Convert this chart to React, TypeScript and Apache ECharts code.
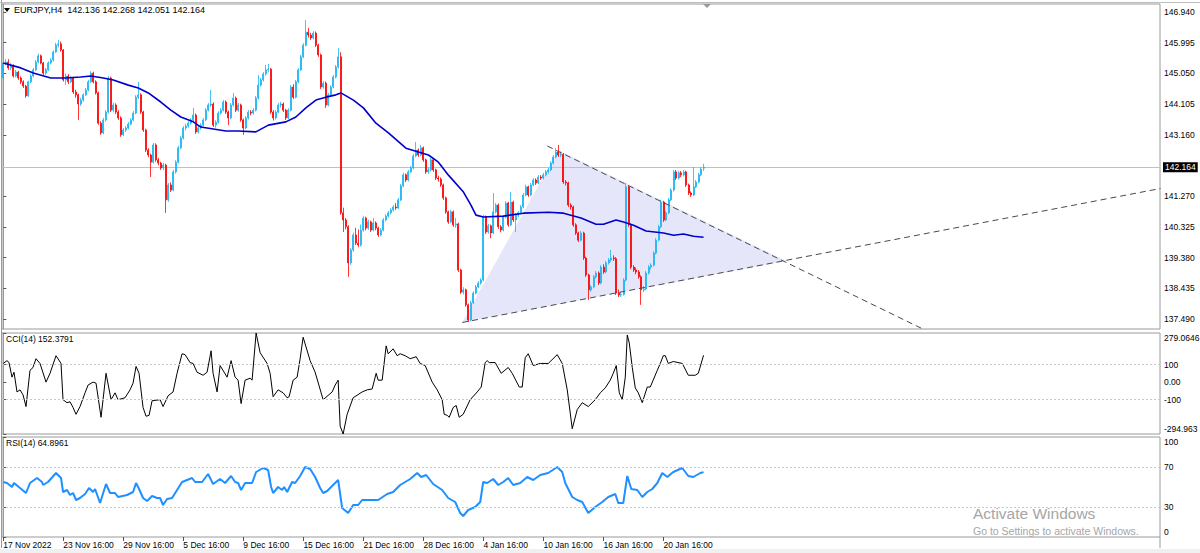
import { useEffect, useRef } from "react";
import * as echarts from "echarts";

// ---------- data ----------
const symbolName = "EURJPY,H4";
const lastQuote = { open: "142.136", high: "142.268", low: "142.051", close: "142.164" };
const bidPrice = 142.164;
const slotCount = 463; // bar slots visible in the window (incl. right shift)
const labelStep = 24; // bars between time labels
const timeLabels = [
  "17 Nov 2022", "23 Nov 16:00", "29 Nov 16:00", "5 Dec 16:00", "9 Dec 16:00", "15 Dec 16:00",
  "21 Dec 16:00", "28 Dec 16:00", "4 Jan 16:00", "10 Jan 16:00", "16 Jan 16:00", "20 Jan 16:00",
];
const priceTicks = [146.94, 145.995, 145.05, 144.105, 143.16, 141.27, 140.325, 139.38, 138.435, 137.49];
const priceTickLabels = ["146.940", "145.995", "145.050", "144.105", "143.160", "141.270", "140.325", "139.380", "138.435", "137.490"];
const priceMin = 137.186;
const priceMax = 147.186;
const cciMin = -294.963;
const cciMax = 279.0646;
const cciTicks = [-294.963, -100, 0, 100, 279.0646];
const cciTickLabels = ["-294.963", "-100", "0.00", "100", "279.0646"];
const cciLevels = [100, -100];
const cciLast = "152.3791";
const rsiMin = 0;
const rsiMax = 100;
const rsiTicks = [0, 30, 70, 100];
const rsiTickLabels = ["0", "30", "70", "100"];
const rsiLevels = [70, 30];
const rsiLast = "64.8961";

// candles: [open, close, low, high]
const candles = [
  [144.91,145.37,144.85,145.43],[145.37,145.40,145.30,145.49],[145.40,145.22,145.16,145.49],[145.22,145.28,145.15,145.37],
  [145.28,144.97,144.92,145.33],[144.97,145.09,144.93,145.16],[145.09,144.91,144.85,145.13],[144.91,144.79,144.72,144.96],
  [144.79,144.66,144.60,144.84],[144.66,144.36,144.30,144.70],[144.36,144.79,144.33,144.83],[144.79,144.97,144.75,145.03],
  [144.97,145.16,144.93,145.22],[145.16,145.40,145.12,145.46],[145.40,145.59,145.36,145.66],[145.59,145.37,145.33,145.63],
  [145.37,145.06,145.00,145.40],[145.06,145.16,145.01,145.22],[145.16,145.37,145.12,145.42],[145.37,145.46,145.33,145.52],
  [145.46,145.71,145.42,145.76],[145.71,145.92,145.68,145.99],[145.92,145.96,145.85,146.08],[145.96,145.77,145.72,146.03],
  [145.77,144.85,144.80,145.80],[144.85,144.97,144.70,145.05],[144.97,144.79,144.72,145.03],[144.79,144.91,144.75,144.98],
  [144.91,144.48,144.42,144.95],[144.48,144.39,144.30,144.55],[144.39,144.11,143.62,144.43],[144.11,144.23,144.05,144.30],
  [144.23,144.39,144.18,144.44],[144.39,144.54,144.35,144.60],[144.54,144.79,144.50,144.85],[144.79,145.06,144.75,145.12],
  [145.06,144.79,144.74,145.10],[144.79,144.45,144.40,144.84],[144.45,143.52,143.47,144.49],[143.52,143.22,143.16,143.58],
  [143.22,143.62,143.18,143.68],[143.62,143.86,143.57,143.92],[143.86,144.91,143.82,144.97],[144.91,143.92,143.86,144.95],
  [143.92,144.08,143.85,144.15],[144.08,143.86,143.80,144.13],[143.86,143.68,143.62,143.92],[143.68,143.16,143.10,143.73],
  [143.16,143.31,143.12,143.37],[143.31,143.37,143.25,143.43],[143.37,143.49,143.33,143.55],[143.49,143.62,143.45,143.67],
  [143.62,143.83,143.58,143.89],[143.83,144.32,143.79,144.38],[144.32,144.39,144.26,144.79],[144.39,143.86,143.80,144.44],
  [143.86,143.31,143.25,143.90],[143.31,142.69,142.63,143.35],[142.69,142.54,142.47,142.75],[142.54,142.32,141.86,142.58],
  [142.32,142.85,142.28,142.91],[142.85,142.39,142.33,142.90],[142.39,142.29,142.22,142.45],[142.29,142.14,142.08,142.33],
  [142.14,142.23,142.07,142.30],[142.23,141.16,140.76,142.27],[141.16,141.62,141.10,141.68],[141.62,141.46,141.40,141.70],
  [141.46,142.02,141.42,142.08],[142.02,142.32,141.97,142.38],[142.32,142.76,142.28,142.82],[142.76,143.06,142.72,143.12],
  [143.06,143.37,143.02,143.43],[143.37,143.43,143.30,143.50],[143.43,143.52,143.38,143.58],[143.52,143.62,143.47,143.68],
  [143.62,143.77,143.58,143.99],[143.77,143.25,143.19,143.82],[143.25,143.37,143.20,143.43],[143.37,143.46,143.32,143.52],
  [143.46,143.62,143.42,143.68],[143.62,143.92,143.58,143.98],[143.92,144.08,143.88,144.14],[144.08,144.11,144.02,144.54],
  [144.11,143.46,143.40,144.16],[143.46,143.55,143.38,143.61],[143.55,143.83,143.50,143.89],[143.83,143.92,143.78,143.98],
  [143.92,144.17,143.88,144.23],[144.17,143.86,143.80,144.22],[143.86,143.68,143.46,143.91],[143.68,144.08,143.64,144.14],
  [144.08,144.29,144.03,144.45],[144.29,143.92,143.86,144.34],[143.92,144.08,143.87,144.14],[144.08,143.62,143.56,144.12],
  [143.62,143.37,143.16,143.66],[143.37,143.68,143.33,143.74],[143.68,143.86,143.63,143.92],[143.86,143.83,143.76,143.92],
  [143.83,143.92,143.78,143.98],[143.92,144.29,143.88,144.35],[144.29,144.69,144.25,145.00],[144.69,144.85,144.64,144.91],
  [144.85,145.03,144.80,145.09],[145.03,145.16,144.98,145.31],[145.16,145.18,145.08,145.34],[145.18,143.86,143.80,145.22],
  [143.86,143.68,143.60,143.92],[143.68,143.86,143.63,143.92],[143.86,144.08,143.82,144.14],[144.08,144.11,144.00,144.18],
  [144.11,143.92,143.86,144.16],[143.92,143.68,143.62,143.96],[143.68,143.92,143.64,143.98],[143.92,144.63,143.88,144.69],
  [144.63,144.32,144.26,144.72],[144.32,144.79,144.28,144.85],[144.79,145.16,144.75,145.22],[145.16,145.56,145.12,145.62],
  [145.56,145.92,145.52,145.98],[145.92,146.32,145.88,146.69],[146.32,146.23,146.15,146.45],[146.23,146.14,146.08,146.30],
  [146.14,146.29,146.10,146.35],[146.29,145.92,145.86,146.34],[145.92,145.62,145.56,145.96],[145.62,144.63,144.57,145.66],
  [144.63,144.75,144.58,144.81],[144.75,144.08,143.99,144.80],[144.08,144.39,144.04,144.45],[144.39,144.63,144.35,144.69],
  [144.63,144.94,144.59,145.00],[144.94,145.25,144.90,145.31],[145.25,145.56,145.20,145.83],[145.56,140.76,140.70,145.70],
  [140.76,140.54,140.17,140.92],[140.54,140.33,140.25,140.60],[140.33,139.22,138.79,140.38],[139.22,139.62,139.16,139.68],
  [139.62,140.08,139.56,140.15],[140.08,139.83,139.77,140.30],[139.83,139.77,139.70,140.25],[139.77,140.23,139.72,140.40],
  [140.23,140.60,140.18,140.66],[140.60,140.29,140.22,140.64],[140.29,140.48,140.24,140.55],[140.48,140.23,140.17,140.52],
  [140.23,140.45,140.19,140.60],[140.45,140.29,140.22,140.50],[140.29,140.08,140.02,140.33],[140.08,140.23,140.04,140.29],
  [140.23,140.54,140.19,140.60],[140.54,140.66,140.50,140.72],[140.66,140.76,140.61,140.82],[140.76,140.85,140.71,140.91],
  [140.85,140.94,140.80,141.00],[140.94,140.91,140.85,141.06],[140.91,141.16,140.87,141.22],[141.16,141.59,141.12,141.65],
  [141.59,141.93,141.55,141.99],[141.93,141.77,141.71,141.97],[141.77,142.02,141.73,142.08],[142.02,142.14,141.98,142.20],
  [142.14,142.51,142.10,142.57],[142.51,142.69,142.47,142.94],[142.69,142.54,142.48,142.74],[142.54,142.76,142.50,142.85],
  [142.76,142.39,142.33,142.80],[142.39,142.02,141.96,142.43],[142.02,142.08,141.96,142.15],[142.08,142.39,142.04,142.45],
  [142.39,142.08,142.02,142.43],[142.08,141.83,141.77,142.12],[141.83,141.80,141.72,141.90],[141.80,141.62,141.56,141.85],
  [141.62,141.22,141.16,141.66],[141.22,140.79,140.73,141.26],[140.79,140.48,140.42,140.83],[140.48,140.79,140.44,140.85],
  [140.79,140.39,140.33,140.83],[140.39,140.42,140.30,140.60],[140.42,139.00,138.94,140.46],[139.00,138.32,138.26,139.04],
  [138.32,138.39,138.25,138.47],[138.39,137.93,137.87,138.43],[137.93,137.46,137.40,137.97],[137.46,137.99,137.42,138.05],
  [137.99,138.29,137.95,138.35],[138.29,138.48,138.25,138.54],[138.48,138.60,138.44,138.66],[138.60,138.69,138.55,138.75],
  [138.69,140.63,138.65,140.70],[140.63,140.17,140.11,140.68],[140.17,140.36,140.12,140.42],[140.36,140.14,139.98,140.40],
  [140.14,140.79,140.10,141.37],[140.79,141.00,140.74,141.06],[141.00,140.33,140.27,141.05],[140.33,140.23,140.16,140.38],
  [140.23,140.63,140.19,140.69],[140.63,141.06,140.59,141.12],[141.06,140.39,140.33,141.10],[140.39,141.09,140.35,141.40],
  [141.09,140.54,140.48,141.13],[140.54,140.69,140.17,140.75],[140.69,140.76,140.63,140.82],[140.76,140.94,140.71,141.00],
  [140.94,141.31,140.90,141.37],[141.31,141.56,141.27,141.62],[141.56,141.31,141.25,141.60],[141.31,141.62,141.27,141.68],
  [141.62,141.77,141.58,141.83],[141.77,141.68,141.62,141.82],[141.68,141.86,141.64,141.92],[141.86,141.83,141.77,141.92],
  [141.83,141.93,141.79,141.99],[141.93,142.02,141.88,142.08],[142.02,142.08,141.97,142.14],[142.08,142.29,142.04,142.35],
  [142.29,142.48,142.25,142.54],[142.48,142.63,142.44,142.75],[142.63,142.54,142.48,142.85],[142.54,142.56,142.47,142.65],
  [142.56,141.71,141.65,142.60],[141.71,141.68,141.60,141.77],[141.68,141.00,140.94,141.72],[141.00,140.94,140.86,141.06],
  [140.94,140.39,140.33,140.98],[140.39,140.14,140.08,140.44],[140.14,139.92,139.86,140.18],[139.92,140.14,139.88,140.20],
  [140.14,139.37,139.31,140.18],[139.37,138.85,138.79,139.41],[138.85,138.39,138.08,138.89],[138.39,138.48,138.33,138.54],
  [138.48,138.79,138.44,138.85],[138.79,138.91,138.74,138.97],[138.91,138.60,138.54,138.96],[138.60,139.09,138.56,139.15],
  [139.09,138.94,138.88,139.18],[138.94,139.22,138.90,139.28],[139.22,139.31,139.17,139.37],[139.31,139.37,139.25,139.62],
  [139.37,139.35,139.28,139.45],[139.35,138.29,138.23,139.40],[138.29,138.23,138.17,138.40],[138.23,138.25,138.17,138.33],
  [138.25,138.69,138.21,138.75],[138.69,141.56,138.65,141.68],[141.56,140.39,140.33,141.60],[140.39,139.09,139.03,140.44],
  [139.09,139.00,138.94,139.15],[139.00,138.94,138.87,139.08],[138.94,138.79,138.73,139.00],[138.79,138.39,137.93,138.84],
  [138.39,138.42,138.32,138.50],[138.42,138.91,138.38,138.97],[138.91,139.09,138.86,139.15],[139.09,139.15,139.02,139.21],
  [139.15,139.52,139.11,139.58],[139.52,139.92,139.48,139.98],[139.92,140.33,139.88,140.39],[140.33,141.09,140.29,141.16],
  [141.09,140.54,140.48,141.13],[140.54,140.76,140.50,140.82],[140.76,141.16,140.72,141.22],[141.16,141.46,141.12,141.52],
  [141.46,142.02,141.42,142.08],[142.02,141.83,141.77,142.08],[141.83,141.99,141.79,142.05],[141.99,141.93,141.86,142.05],
  [141.93,142.02,141.88,142.08],[142.02,141.62,141.56,142.06],[141.62,141.37,141.31,141.66],[141.37,141.31,141.25,141.42],
  [141.31,141.56,141.27,142.17],[141.56,141.71,141.52,141.77],[141.71,141.93,141.67,141.99],[141.93,142.11,141.89,142.17],
  [142.136,142.164,142.051,142.268],
];

// moving average: [bar index, value]
const maPoints = [
  [0,145.37],[7,145.22],[12,145.06],[19,144.91],[25,144.91],[31,144.94],[35,144.97],[40,144.91],[44,144.85],
  [50,144.69],[54,144.60],[58,144.45],[63,144.17],[67,143.92],[71,143.71],[76,143.56],[79,143.40],[84,143.34],
  [89,143.28],[94,143.28],[101,143.25],[106,143.46],[113,143.56],[117,143.71],[121,143.99],[125,144.23],[129,144.32],
  [133,144.39],[135,144.45],[140,144.23],[144,143.99],[149,143.52],[154,143.22],[161,142.75],[166,142.63],[170,142.54],
  [174,142.32],[178,141.92],[184,141.40],[187,141.00],[189,140.69],[192,140.63],[200,140.66],[208,140.75],[218,140.78],
  [224,140.75],[231,140.60],[237,140.41],[240,140.41],[245,140.54],[248,140.48],[252,140.38],[257,140.20],[264,140.14],
  [268,140.07],[272,140.11],[276,140.04],[280,140.01],
];

// CCI(14): [bar index, value]
const cciPoints = [
  [0,106],[1.5,122],[2.3,111],[3.5,28],[4.3,56],[5.5,-56],[6.7,-44],[7.9,-72],[9.1,-139],[10.7,67],[11.9,83],
  [13.1,133],[14.7,106],[17.1,0],[18.7,50],[21.1,150],[23.1,106],[23.9,-100],[25.5,-117],[26.7,-112],[27.9,-144],
  [29.1,-183],[30.7,-139],[32.7,-61],[33.9,-17],[35.9,0],[37.1,-6],[39.1,-200],[41.1,50],[43.1,-100],[44.7,-61],
  [45.9,-100],[48.7,-89],[50.7,-44],[51.9,-6],[53.1,89],[54.3,50],[55.9,-144],[57.1,-194],[58.3,-189],[59.5,-106],
  [62.7,-100],[63.9,-139],[65.9,-78],[67.9,-56],[69.5,50],[71.5,161],[72.7,156],[74.7,111],[75.9,106],[77.5,56],
  [79.9,39],[81.5,56],[83.1,178],[83.9,50],[85.5,-56],[86.7,94],[89.5,28],[91.1,122],[92.7,28],[93.9,11],
  [95.1,-122],[96.7,11],[98.7,22],[99.5,11],[101.1,279],[102.7,167],[105.5,106],[106.7,50],[107.9,-83],[109.9,-44],
  [111.9,-61],[113.5,-89],[114.3,-83],[115.9,11],[117.5,28],[118.7,133],[119.9,255],[122.7,122],[124.7,56],
  [127.9,-100],[131.5,-56],[132.7,-17],[133.9,11],[134.7,-250],[135.9,-295],[137.5,-183],[139.9,-89],[143.5,-56],
  [145.5,-44],[147.5,-39],[149.1,50],[149.9,11],[151.5,11],[153.1,206],[153.9,161],[155.9,189],[157.5,150],
  [158.7,161],[160.7,150],[162.7,133],[165.1,144],[166.7,106],[168.7,94],[171.5,0],[173.5,-44],[175.5,-100],
  [176.3,-183],[177.5,-189],[178.3,-200],[179.9,-144],[181.1,-133],[182.3,-200],[183.9,-183],[186.7,-100],
  [189.5,-56],[191.1,-28],[192.7,111],[193.5,122],[194.3,111],[196.7,111],[199.1,50],[201.9,83],[203.5,50],
  [206.3,-28],[207.5,-28],[208.7,139],[209.9,161],[211.9,94],[214.7,106],[217.9,106],[221.5,156],[223.5,106],
  [225.5,-44],[227.5,-265],[229.5,-156],[231.5,-117],[233.9,-139],[236.7,-100],[238.7,-61],[240.7,-33],[242.7,11],
  [243.9,50],[245.1,94],[246.3,-61],[247.5,-100],[248.7,28],[249.5,268],[250.3,222],[251.5,83],[252.7,-33],
  [253.9,-61],[255.5,-117],[257.5,-28],[258.7,-28],[261.5,67],[262.7,106],[263.9,150],[264.7,150],[265.9,106],
  [267.9,117],[271.5,106],[273.9,39],[276.7,39],[277.9,50],[280,152.38],
];

// RSI(14): [bar index, value]
const rsiPoints = [
  [0,55],[1.5,54],[3.5,50],[4.3,54],[6.7,49],[9.1,44],[10.7,54],[13.5,59],[15.5,55],[15.9,52],[17.9,55],[21.1,64],
  [23.1,59],[23.9,45],[25.5,47],[26.7,42],[27.9,44],[29.1,37],[30.7,39],[32.7,43],[34.3,49],[35.9,45],[36.7,48],
  [38.7,34],[41.1,53],[42.7,44],[44.7,44],[45.9,40],[49.5,42],[51.9,45],[53.1,54],[54.3,48],[55.9,39],[57.5,36],
  [59.5,41],[61.5,39],[62.7,39],[63.9,32],[65.5,38],[67.5,39],[69.5,47],[71.5,55],[73.5,57],[75.5,59],[76.7,55],
  [79.5,55],[81.9,63],[83.9,53],[86.7,58],[88.7,54],[91.1,61],[92.7,55],[93.9,54],[95.1,47],[96.7,54],[99.5,54],
  [101.1,65],[103.9,69],[105.9,67],[107.1,50],[107.9,44],[109.9,50],[111.5,47],[112.3,50],[113.5,45],[115.5,55],
  [116.7,54],[118.7,61],[120.7,70],[122.7,68],[124.7,60],[126.7,49],[127.9,44],[129.5,46],[131.9,52],[133.9,57],
  [135.5,29],[137.9,24],[139.9,32],[141.9,32],[143.5,37],[146.7,37],[149.9,37],[153.5,43],[155.9,45],[158.7,52],
  [160.7,55],[162.7,58],[165.5,64],[167.1,60],[169.1,62],[171.9,53],[175.5,47],[177.9,39],[180.7,35],[182.7,24],
  [183.9,21],[185.9,27],[188.7,30],[190.7,35],[191.9,55],[193.5,54],[195.9,58],[197.9,52],[199.9,55],[201.9,59],
  [203.9,52],[206.7,54],[209.5,60],[211.9,57],[214.7,62],[217.9,64],[221.5,70],[223.5,65],[224.7,54],[227.5,40],
  [229.5,37],[231.5,35],[233.9,24],[236.7,30],[239.5,35],[241.9,40],[244.7,43],[245.9,34],[247.9,34],[249.5,61],
  [251.1,48],[253.5,47],[255.5,40],[257.5,45],[259.5,48],[261.5,54],[263.5,64],[265.5,60],[267.9,65],[271.5,69],
  [273.9,61],[275.9,60],[278.7,64],[280,64.9],
];

// drawn objects (bar index, price)
const upperTrend = [[217.5, 142.817], [380, 136.724]];
const lowerTrend = [[183.5, 137.386], [462.7, 141.509]];
const triangle = [[183.5, 137.386], [221.9, 142.694], [313.1, 139.278]];

// ---------- component ----------
const FONT = "Liberation Sans, Arial, sans-serif";
const TXT = "#000";
const FRAME = "#9a9a9a";

// a custom series that writes a panel's scale labels just right of its y axis
function scaleLabelSeries(xAxisIndex: number, yAxisIndex: number, ticks: number[], labels: string[], lo: number, hi: number) {
  return {
    type: "custom", xAxisIndex, yAxisIndex, silent: true, clip: false, z: 10,
    data: ticks.map((_, k) => [k]),
    renderItem: (params: any, api: any) => {
      const k = params.dataIndex;
      const [x, yRaw] = api.coord([slotCount - 0.5, ticks[k]]);
      const yTop = api.coord([0, hi])[1];
      const yBottom = api.coord([0, lo])[1];
      const y = Math.min(Math.max(yRaw, yTop + 5), yBottom - 5);
      return {
        type: "text", x: x + 4, y,
        style: {
          text: labels[k], fill: TXT, font: `8.5px ${FONT}`,
          align: "left", verticalAlign: "middle", textAlign: "left", textVerticalAlign: "middle",
        },
      };
    },
  };
}

export default function App() {
  const ref = useRef<HTMLDivElement>(null);

  useEffect(() => {
    if (!ref.current) return;
    const chart = echarts.init(ref.current, undefined, { renderer: "svg" });
    const L = 2, W = 1158;
    const hiddenValueX = (gridIndex: number) => ({
      type: "value", gridIndex, min: -0.5, max: slotCount - 0.5, show: false,
    });
    const axisLabelBase = {
      fontFamily: FONT, fontSize: 8.5, color: TXT, margin: 4,
      showMinLabel: true, showMaxLabel: true, hideOverlap: false,
    };
    const lookup = (ticks: number[], labels: string[]) => (v: number) =>
      labels[ticks.findIndex((t) => Math.abs(t - v) < 1e-4)] ?? "";

    chart.setOption({
      animation: false,
      backgroundColor: "#ffffff",
      textStyle: { fontFamily: FONT },
      grid: [
        { left: L, top: 4, width: W, height: 325, show: true, borderColor: FRAME, borderWidth: 1, backgroundColor: "transparent" },
        { left: L, top: 333, width: W, height: 101, show: true, borderColor: FRAME, borderWidth: 1, backgroundColor: "transparent" },
        { left: L, top: 437, width: W, height: 100, show: true, borderColor: FRAME, borderWidth: 1, backgroundColor: "transparent" },
      ],
      xAxis: [
        { type: "category", gridIndex: 0, data: Array.from({ length: slotCount }, (_, i) => String(i)), boundaryGap: true, show: false },
        hiddenValueX(0),
        hiddenValueX(1),
        {
          type: "value", gridIndex: 2, min: -0.5, max: slotCount - 0.5, position: "bottom",
          splitLine: { show: false },
          axisLine: { show: false },
          axisTick: { show: true, length: 4, lineStyle: { color: "#555" }, customValues: timeLabels.map((_, k) => k * labelStep) },
          axisLabel: {
            ...axisLabelBase, margin: 3, align: "left",
            customValues: timeLabels.map((_, k) => k * labelStep),
            formatter: (v: number) => timeLabels[Math.round(v / labelStep)] ?? "",
          },
        },
      ],
      yAxis: [
        {
          type: "value", gridIndex: 0, position: "right", min: priceMin, max: priceMax,
          splitLine: { show: false },
          axisLine: { show: true, lineStyle: { color: FRAME } },
          axisTick: { show: true, length: 3, lineStyle: { color: "#555" }, customValues: priceTicks },
          axisLabel: { ...axisLabelBase, customValues: priceTicks, formatter: lookup(priceTicks, priceTickLabels) },
        },
        {
          type: "value", gridIndex: 1, position: "right", min: cciMin, max: cciMax,
          splitLine: { show: false },
          axisLine: { show: true, lineStyle: { color: FRAME } },
          axisTick: { show: true, length: 3, lineStyle: { color: "#555" }, customValues: cciTicks },
          axisLabel: { show: false },
        },
        {
          type: "value", gridIndex: 2, position: "right", min: rsiMin, max: rsiMax,
          splitLine: { show: false },
          axisLine: { show: true, lineStyle: { color: FRAME } },
          axisTick: { show: true, length: 3, lineStyle: { color: "#555" }, customValues: rsiTicks },
          axisLabel: { show: false },
        },
      ],
      series: [
        {
          type: "custom", name: "triangle", xAxisIndex: 1, yAxisIndex: 0, z: 1, silent: true,
          data: [[0]],
          renderItem: (_p: any, api: any) => ({
            type: "polygon",
            shape: { points: triangle.map((pt) => api.coord(pt)) },
            style: { fill: "#e6e6fa", stroke: "none" },
          }),
        },
        {
          type: "candlestick", name: symbolName, xAxisIndex: 0, yAxisIndex: 0, z: 3,
          barWidth: 1.5,
          data: candles,
          itemStyle: {
            color: "#1ab4f2", color0: "#ff0000",
            borderColor: "#1ab4f2", borderColor0: "#ff0000", borderWidth: 0.8,
          },
          markLine: {
            silent: true, symbol: "none", z: 2,
            lineStyle: { color: "#c0c0c0", type: "solid", width: 1 },
            label: {
              show: true, position: "end", distance: 3, formatter: bidPrice.toFixed(3),
              backgroundColor: "#000", color: "#fff", fontFamily: FONT, fontSize: 8.5, padding: [1, 2, 0, 2],
            },
            data: [{ yAxis: bidPrice }],
          },
        },
        {
          type: "line", name: "MA", xAxisIndex: 1, yAxisIndex: 0, z: 4, data: maPoints,
          symbol: "none", lineStyle: { color: "#0000cd", width: 1.6 }, silent: true,
        },
        {
          type: "line", name: "upper", xAxisIndex: 1, yAxisIndex: 0, z: 4, data: upperTrend,
          symbol: "none", clip: true, lineStyle: { color: "#4a4a4a", width: 1, type: [6, 4] }, silent: true,
        },
        {
          type: "line", name: "lower", xAxisIndex: 1, yAxisIndex: 0, z: 4, data: lowerTrend,
          symbol: "none", clip: true, lineStyle: { color: "#4a4a4a", width: 1, type: [6, 4] }, silent: true,
        },
        {
          type: "line", name: "CCI(14)", xAxisIndex: 2, yAxisIndex: 1, data: cciPoints,
          symbol: "none", lineStyle: { color: "#000", width: 1 }, silent: true,
          markLine: {
            silent: true, symbol: "none", label: { show: false },
            lineStyle: { color: "#c8c8c8", type: [2, 2], width: 1 },
            data: cciLevels.map((v) => ({ yAxis: v })),
          },
        },
        {
          type: "line", name: "RSI(14)", xAxisIndex: 3, yAxisIndex: 2, data: rsiPoints,
          symbol: "none", lineStyle: { color: "#1e90ff", width: 2 }, silent: true,
          markLine: {
            silent: true, symbol: "none", label: { show: false },
            lineStyle: { color: "#c8c8c8", type: [2, 2], width: 1 },
            data: rsiLevels.map((v) => ({ yAxis: v })),
          },
        },
        scaleLabelSeries(2, 1, cciTicks, cciTickLabels, cciMin, cciMax),
        scaleLabelSeries(3, 2, rsiTicks, rsiTickLabels, rsiMin, rsiMax),
      ],
      graphic: [
        { type: "line", shape: { x1: 1.5, y1: 0, x2: 1.5, y2: 548 }, style: { stroke: FRAME, lineWidth: 1 }, silent: true },
        { type: "line", shape: { x1: 0, y1: 2.5, x2: 1200, y2: 2.5 }, style: { stroke: "#bdbdbd", lineWidth: 1 }, silent: true },
        { type: "line", shape: { x1: L + W, y1: 537, x2: L + W, y2: 548 }, style: { stroke: FRAME, lineWidth: 1 }, silent: true },
        { type: "rect", shape: { x: 0, y: 549, width: 1200, height: 4 }, style: { fill: "#f0f0f0" }, silent: true },
        { type: "polygon", shape: { points: [[4, 8], [10, 8], [7, 12]] }, style: { fill: "#000" }, silent: true },
        { type: "polygon", shape: { points: [[703, 4], [711, 4], [707, 8]] }, style: { fill: "#9a9a9a" }, silent: true },
        {
          type: "text", x: 14, y: 10, silent: true,
          style: {
            text: `${symbolName}  ${lastQuote.open} ${lastQuote.high} ${lastQuote.low} ${lastQuote.close}`,
            fill: TXT, font: `9px ${FONT}`, verticalAlign: "middle",
          },
        },
        {
          type: "text", x: 6, y: 339, silent: true,
          style: { text: `CCI(14) ${cciLast}`, fill: TXT, font: `8.5px ${FONT}`, verticalAlign: "middle" },
        },
        {
          type: "text", x: 6, y: 443, silent: true,
          style: { text: `RSI(14) ${rsiLast}`, fill: TXT, font: `8.5px ${FONT}`, verticalAlign: "middle" },
        },
        {
          type: "text", x: 973, y: 513, silent: true, z: 100,
          style: { text: "Activate Windows", fill: "#a6a6a6", font: `15.5px ${FONT}`, verticalAlign: "middle" },
        },
        {
          type: "text", x: 973, y: 531, silent: true, z: 100,
          style: { text: "Go to Settings to activate Windows.", fill: "#a6a6a6", font: `10.5px ${FONT}`, verticalAlign: "middle" },
        },
      ],
    });

    return () => chart.dispose();
  }, []);

  return (
    <div
      ref={ref}
      style={{ position: "fixed", left: 0, top: 0, width: 1200, height: 553, background: "#fff" }}
    />
  );
}
